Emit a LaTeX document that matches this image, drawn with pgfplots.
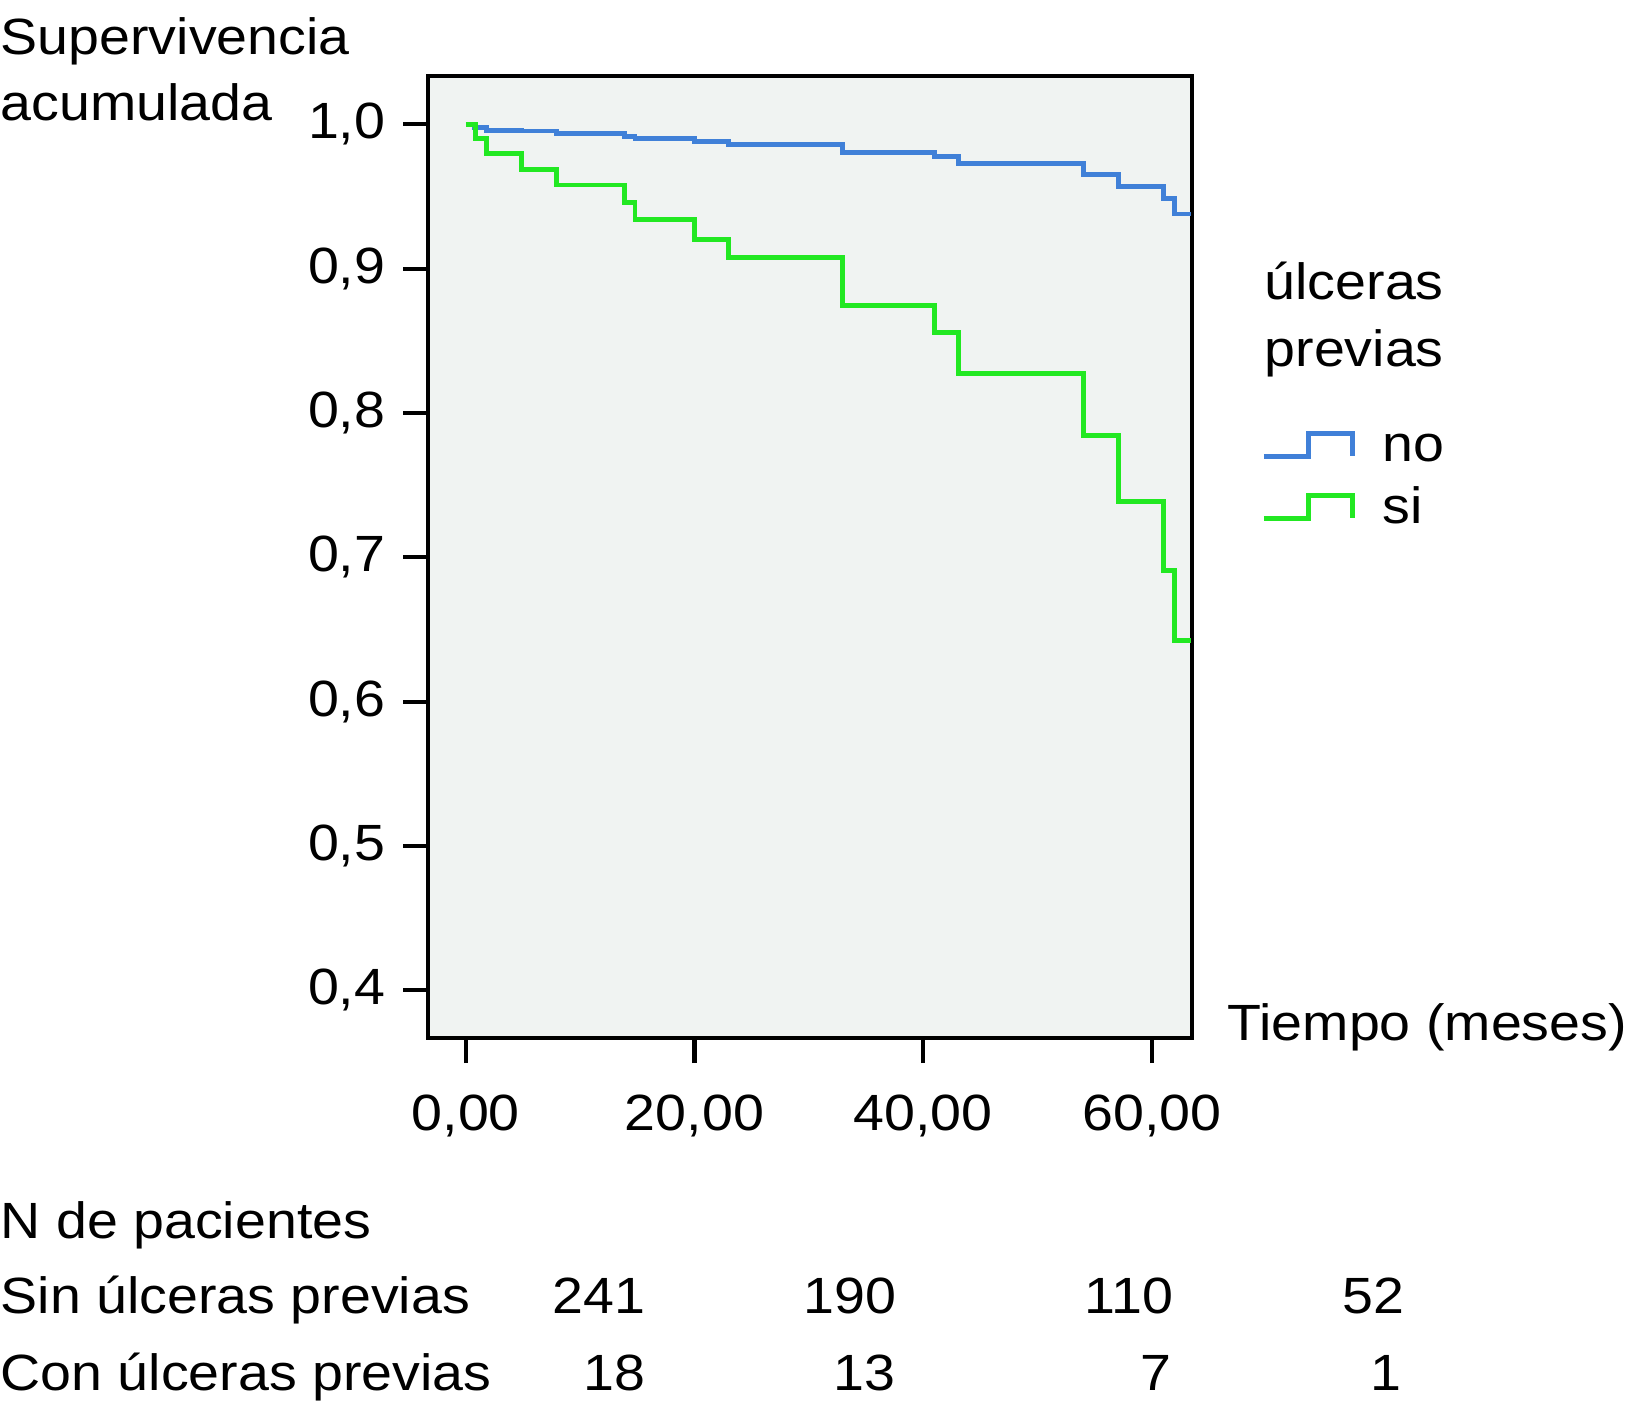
\documentclass[border=0pt]{standalone}
\usepackage{fontspec}
\setmainfont{Liberation Sans}[FakeStretch=1.09]
\usepackage{pgfplots}
\pgfplotsset{compat=1.18}
\definecolor{kmblue}{RGB}{64,128,216}
\definecolor{kmgreen}{RGB}{34,232,34}
\definecolor{panel}{RGB}{240,243,242}

\begin{document}
\fontsize{14.5}{17.4}\selectfont
\begin{tikzpicture}
\useasboundingbox (0,0) rectangle (16.46,-14.03);
\begin{axis}[
  at={(4.28cm,-10.38cm)}, anchor=south west,
  scale only axis, width=7.64cm, height=9.62cm,
  xmin=-3.3, xmax=63.5, ymin=0.367, ymax=1.0335,
  axis background/.style={fill=panel},
  axis line style={line width=1.2pt},
  tick align=outside, xtick pos=bottom, ytick pos=left,
  major tick length=0.25cm,
  tick style={black, line width=1.2pt},
  xtick={0,20,40,60},
  xticklabels={{0,00},{20,00},{40,00},{60,00}},
  ytick={0.4,0.5,0.6,0.7,0.8,0.9,1.0},
  yticklabels={{0,4},{0,5},{0,6},{0,7},{0,8},{0,9},{1,0}},
  xticklabel style={inner sep=0pt, anchor=north, yshift=-0.31cm},
  yticklabel style={inner sep=0pt, anchor=east, xshift=-0.17cm},
  legend cell align=left,
  legend style={at={(1.09,0.638)}, anchor=north west, draw=none, fill=none,
    inner sep=0pt, row sep=0.15cm, cells={anchor=base west},
    nodes={inner sep=0pt, text height=0.37cm, text depth=0.1cm},
    /tikz/every odd column/.style={column sep=0.27cm}},
  legend image code/.code={\draw[#1] (0cm,0.055cm) -- (0.45cm,0.055cm) -- (0.45cm,0.285cm) -- (0.89cm,0.285cm) -- (0.89cm,0.055cm);},
]
\addplot[const plot, kmblue, line width=1.4pt] coordinates {
  (0,1.0) (0.8,0.998) (1.8,0.996) (4.9,0.9954) (7.9,0.9938) (13.9,0.9913)
  (14.8,0.9901) (20.0,0.9883) (23.0,0.986) (32.9,0.9808) (41.0,0.9778)
  (43.1,0.973) (54.0,0.9654) (57.1,0.9572) (61.0,0.9485) (62.0,0.9379)
  (63.4,0.9379)};
\addlegendentry{no}
\addplot[const plot, kmgreen, line width=1.4pt] coordinates {
  (0,1.0) (0.85,0.990) (1.8,0.980) (4.9,0.969) (7.9,0.958) (13.9,0.946)
  (14.8,0.934) (20.0,0.9205) (23.0,0.9077) (32.9,0.8745) (41.0,0.8557)
  (43.1,0.8277) (54.0,0.7846) (57.1,0.7388) (61.0,0.6912) (62.0,0.6421)
  (63.4,0.6421)};
\addlegendentry{si}
\end{axis}
\node[anchor=base west, inner sep=0pt] at (0,-0.55) {Supervivencia};
\node[anchor=base west, inner sep=0pt] at (0,-1.21) {acumulada};
\node[anchor=base west, inner sep=0pt] at (12.64,-2.99) {úlceras};
\node[anchor=base west, inner sep=0pt] at (12.64,-3.66) {previas};
\node[anchor=base west, inner sep=0pt] at (12.27,-10.40) {Tiempo (meses)};
\node[anchor=base west, inner sep=0pt] at (0,-12.38) {N de pacientes};
\node[anchor=base west, inner sep=0pt] at (0,-13.13) {Sin úlceras previas};
\node[anchor=base west, inner sep=0pt] at (0,-13.90) {Con úlceras previas};
\foreach \x/\n in {6.46/241, 8.97/190, 11.74/110, 14.05/52}
  \node[anchor=base east, inner sep=0pt] at (\x,-13.13) {\n};
\foreach \x/\n in {6.46/18, 8.96/13, 11.72/7, 14.02/1}
  \node[anchor=base east, inner sep=0pt] at (\x,-13.90) {\n};
\end{tikzpicture}
\end{document}
